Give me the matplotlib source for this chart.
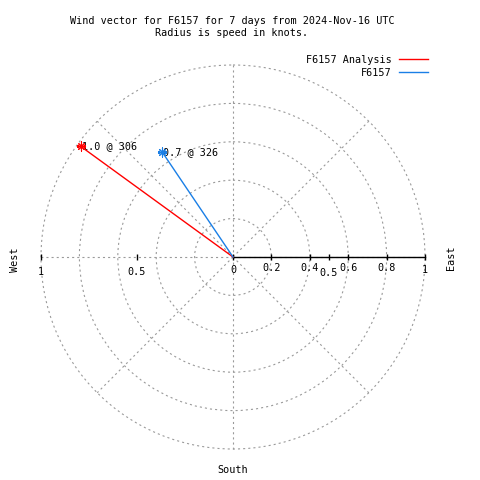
import numpy as np
import matplotlib
matplotlib.use("Agg")
import matplotlib.pyplot as plt

# ---- data ----
series_names = ["F6157 Analysis", "F6157"]
speeds = [0.98, 0.66]          # knots
directions = [306, 326]        # degrees (compass)
series_colors = ["#ff0000", "#1a7fe6"]

r_ticks = [0.2, 0.4, 0.6, 0.8, 1.0]
r_tick_labels = ["0.2", "0.4", "0.6", "0.8", "1"]
x_ticks_right = [0.5]
x_ticks_left = [0.5, 1.0]
x_tick_labels_right = ["0.5"]
x_tick_labels_left = ["0.5", "1"]

title = "Wind vector for F6157 for 7 days from 2024-Nov-16 UTC\nRadius is speed in knots."

plt.rcParams["font.family"] = ["DejaVu Sans Mono"]
plt.rcParams["lines.scale_dashes"] = False
FS = 7.3
GRID = "#9a9a9a"
DASH = (0, (1.5, 2.2))

fig = plt.figure(figsize=(4.8, 4.8), dpi=100)
ax = fig.add_axes([41/480, 31/480, 384/480, 384/480], projection="polar")
ax.set_theta_zero_location("N")
ax.set_theta_direction(-1)
ax.set_rlim(0, 1.0)
ax.spines["polar"].set_visible(False)
ax.set_facecolor("none")

ax.set_xticks(np.deg2rad(np.arange(0, 360, 45)))
ax.set_xticklabels([])
ax.set_yticks(r_ticks)
ax.set_yticklabels([])
ax.grid(True, color=GRID, linestyle=DASH, linewidth=0.8)
for gl in ax.get_xgridlines() + ax.get_ygridlines():
    gl.set_clip_on(False)

# black solid axis line (East side) with ticks
east = np.pi / 2
west = 3 * np.pi / 2
ax.plot([east, east], [0, 1.0], color="black", lw=1.0, clip_on=False, zorder=3)
tick_r = sorted(set([0.0] + r_ticks + x_ticks_right))
ax.plot([east] * len(tick_r), tick_r, linestyle="none", marker="|", markersize=5,
        markeredgewidth=1.0, color="black", clip_on=False, zorder=3)
ax.plot([west] * len(x_ticks_left), x_ticks_left, linestyle="none", marker="|",
        markersize=5, markeredgewidth=1.0, color="black", clip_on=False, zorder=3)

# tick labels
def lab(theta, r, s, dy):
    ax.annotate(s, xy=(theta, r), xytext=(0, dy), textcoords="offset pixels",
                ha="center", va="center", fontsize=FS, annotation_clip=False)

lab(east, 0.0, "0", -13)
for r, s in zip(r_ticks, r_tick_labels):
    lab(east, r, s, -11 if s != "1" else -13)
for r, s in zip(x_ticks_right, x_tick_labels_right):
    lab(east, r, s, -16)
for r, s in zip(x_ticks_left, x_tick_labels_left):
    lab(west, r, s, -15)

# vectors
for name, spd, d, c in zip(series_names, speeds, directions, series_colors):
    th = np.deg2rad(d)
    ax.plot([th, th], [0, spd], color=c, lw=1.0, label=name, zorder=4)
    ax.plot([th], [spd], linestyle="none", marker=(8, 2, 0), markersize=6.5,
            markeredgewidth=0.8, color=c, zorder=5)
    ax.annotate(f"{spd:.1f} @ {d}", xy=(th, spd), xytext=(1, 0),
                textcoords="offset pixels", ha="left", va="center", fontsize=FS)

# direction labels
fig.text(451/480, 1 - 258/480, "East", rotation=90, ha="center", va="center", fontsize=FS)
fig.text(15/480, 1 - 260/480, "West", rotation=90, ha="center", va="center", fontsize=FS)
fig.text(233/480, 1 - 470/480, "South", ha="center", va="center", fontsize=FS)

fig.text(232/480, 1 - 27/480, title, ha="center", va="center", fontsize=FS,
         linespacing=1.2)

ax.legend(loc="upper right", bbox_to_anchor=(428/480, 1 - 55/480),
          bbox_transform=fig.transFigure, markerfirst=False, frameon=False,
          fontsize=FS, handlelength=2.9, handletextpad=0.7, labelspacing=0.3,
          borderpad=0, borderaxespad=0)

fig.savefig("out.png", dpi=100, facecolor="white")
